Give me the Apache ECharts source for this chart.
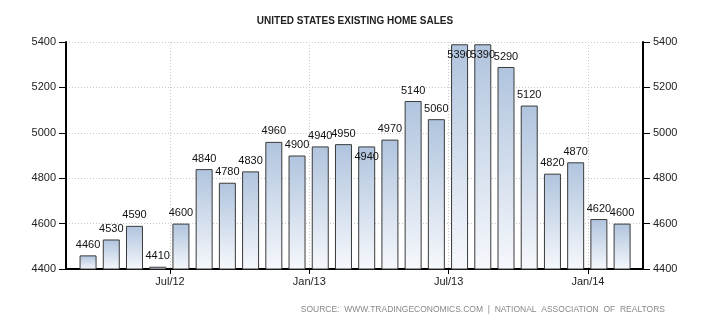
<!DOCTYPE html>
<html>
<head>
<meta charset="utf-8">
<script src="https://cdn.jsdelivr.net/npm/echarts@6/dist/echarts.min.js"></script>
<style>
html,body{margin:0;padding:0;background:#fff;}
#chart{width:710px;height:325px;}
</style>
</head>
<body>
<div id="chart"></div>
<script>
// Months (YYYY-MM) of each bar
const months = ["2012-03","2012-04","2012-05","2012-06","2012-07","2012-08","2012-09","2012-10",
  "2012-11","2012-12","2013-01","2013-02","2013-03","2013-04","2013-05","2013-06","2013-07",
  "2013-08","2013-09","2013-10","2013-11","2013-12","2014-01","2014-02"];
// Existing home sales (thousands, SAAR)
const sales = [4460,4530,4590,4410,4600,4840,4780,4830,4960,4900,4940,4950,4940,4970,5140,5060,
  5390,5390,5290,5120,4820,4870,4620,4600];
// X tick positions (months since Jan 2012) and their labels
const xTickMonths = [6,12,18,24];
const xTickLabels = ["Jul/12","Jan/13","Jul/13","Jan/14"];
// Y axis ticks
const yTicks = [4400,4600,4800,5000,5200,5400];

const font = "'Liberation Sans', Arial, sans-serif";
function monthIndex(s){const p=s.split('-');return (parseInt(p[0])-2012)*12+(parseInt(p[1])-1);}
const barOffset = 0.47;

const data = sales.map((v,i)=>{
  const item = {value:[monthIndex(months[i])+barOffset, v]};
  const prev = i>0 ? sales[i-1] : null;
  if (v > 5350 || (prev!==null && prev>v && prev-v<15)) {
    item.label = {position:'insideTop', distance:5};
  }
  return item;
});

const yAxisCommon = {
  type:'value', min:yTicks[0], max:yTicks[yTicks.length-1], interval:200,
  axisLine:{show:true, lineStyle:{color:'#000', width:2}},
  axisTick:{show:true, inside:false, length:7, lineStyle:{color:'#000', width:1}},
  axisLabel:{color:'#222', fontFamily:font, fontSize:11, margin:10,
    formatter:function(v){return String(v);}},
};

const chart = echarts.init(document.getElementById('chart'), null, {renderer:'canvas'});
chart.setOption({
  animation:false,
  backgroundColor:'#fff',
  title:{
    text:'UNITED STATES EXISTING HOME SALES',
    left:'center', top:11,
    textStyle:{fontFamily:font, fontSize:10, fontWeight:'bold', color:'#222'}
  },
  graphic:[{
    type:'text', right:45, top:305,
    style:{text:'SOURCE:  WWW.TRADINGECONOMICS.COM  |  NATIONAL  ASSOCIATION  OF  REALTORS',
      fill:'#888', font:'8.5px ' + font}
  }],
  grid:{left:66, right:67, top:42, bottom:56, containLabel:false},
  xAxis:{
    type:'value', min:1.52, max:26.37,
    axisLine:{show:true, onZero:false, lineStyle:{color:'#000', width:2}},
    axisTick:{show:true, length:5, customValues:xTickMonths, lineStyle:{color:'#000'}},
    axisLabel:{customValues:xTickMonths, margin:7, color:'#222', fontFamily:font, fontSize:11,
      formatter:function(v){const k=xTickMonths.indexOf(Math.round(v));return k>=0?xTickLabels[k]:'';}},
    splitLine:{show:true, lineStyle:{color:'#c8c8c8', type:[1,2], width:1}}
  },
  yAxis:[
    Object.assign({}, yAxisCommon, {position:'left',
      splitLine:{show:true, lineStyle:{color:'#c8c8c8', type:[1,2], width:1}}}),
    Object.assign({}, yAxisCommon, {position:'right', splitLine:{show:false}})
  ],
  series:[{
    type:'bar', data:data, barWidth:17, yAxisIndex:0,
    itemStyle:{
      color:new echarts.graphic.LinearGradient(0,0,0,1,[{offset:0,color:'#b0c4de'},{offset:1,color:'#f6f8fc'}]),
      borderColor:'#3a3a3a', borderWidth:1
    },
    label:{show:true, position:'top', distance:5, color:'#111', fontFamily:font, fontSize:11,
      formatter:function(p){return p.value[1];}}
  }]
});
</script>
</body>
</html>
